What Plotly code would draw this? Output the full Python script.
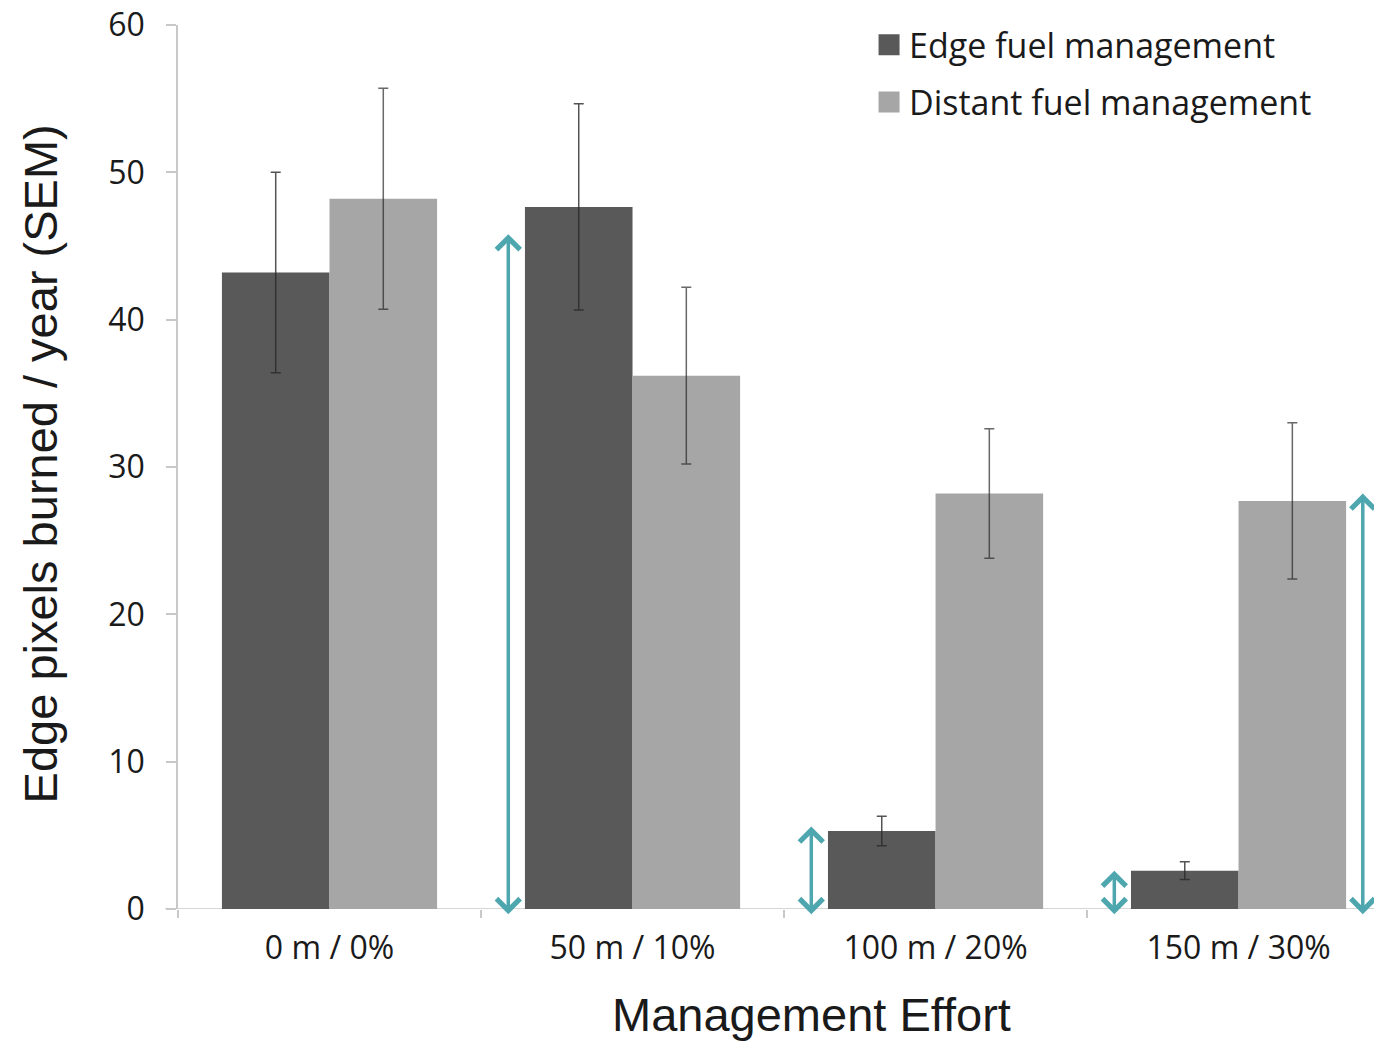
import plotly.graph_objects as go

categories = ["0 m / 0%", "50 m / 10%", "100 m / 20%", "150 m / 30%"]
edge_values = [43.2, 47.65, 5.3, 2.6]
edge_sem = [6.8, 7.0, 1.0, 0.6]
distant_values = [48.2, 36.2, 28.2, 27.7]
distant_sem = [7.5, 6.0, 4.4, 5.3]

# teal double-headed arrows: (category index, side offset, top value)
arrow_cat = [1, 2, 3, 3]
arrow_side = [-1, -1, -1, 1]
arrow_top = [45.8, 5.6, 2.6, 28.2]
arrow_bottom = -0.45

DARK = "#595959"
LIGHT = "#a6a6a6"
TEAL = "#4ea6ae"
AXIS = "#c8c8c8"
TICKFONT = "Open Sans"
TITLEFONT = "Liberation Sans"

fig = go.Figure()
fig.add_trace(go.Bar(
    x=categories, y=edge_values, name="Edge fuel management",
    marker=dict(color=DARK, line=dict(width=0)),
    error_y=dict(type="data", array=edge_sem, color="rgba(40,40,40,0.8)", thickness=1.5, width=5),
    showlegend=False,
))
fig.add_trace(go.Bar(
    x=categories, y=distant_values, name="Distant fuel management",
    marker=dict(color=LIGHT, line=dict(width=0)),
    error_y=dict(type="data", array=distant_sem, color="rgba(40,40,40,0.7)", thickness=1.5, width=5),
    showlegend=False,
))
# legend entries
for nm, col, grp in [("Edge fuel management", DARK, "a"), ("Distant fuel management", LIGHT, "b")]:
    fig.add_trace(go.Scatter(
        x=[None], y=[None], mode="markers", name=nm, legendgroup=grp,
        marker=dict(symbol="square", size=16, color=col, line=dict(color=col, width=5)),
    ))

for c, s, top in zip(arrow_cat, arrow_side, arrow_top):
    xpos = c + s * 0.41
    fig.add_annotation(
        x=xpos, y=top, ax=xpos, ay=arrow_bottom, xref="x", yref="y", axref="x", ayref="y",
        text="", showarrow=True, arrowhead=4, startarrowhead=4, arrowside="end+start",
        arrowsize=1.3, startarrowsize=1.3, arrowwidth=3.5, arrowcolor=TEAL, standoff=0, startstandoff=0,
    )

# x axis line extending slightly left of y axis
fig.add_shape(type="line", xref="paper", yref="y", x0=-13/1196, x1=1, y0=0, y1=0,
              line=dict(color=AXIS, width=1.5), layer="below")

# axis titles
fig.add_annotation(text="Edge pixels burned / year (SEM)", xref="paper", yref="paper",
                   x=-0.1154, y=0.504, xanchor="center", yanchor="middle", textangle=-90, showarrow=False,
                   font=dict(family=TITLEFONT, size=47, color="#1a1a1a"))
fig.add_annotation(text="Management Effort", xref="paper", yref="paper",
                   x=0.530, y=-0.1199, xanchor="center", yanchor="middle", showarrow=False,
                   font=dict(family=TITLEFONT, size=47, color="#1a1a1a"))

fig.update_layout(
    width=1374, height=1044,
    margin=dict(l=178, r=0, t=25, b=135, autoexpand=False),
    paper_bgcolor="white", plot_bgcolor="white",
    barmode="group", bargap=0.29, bargroupgap=0,
    legend=dict(x=0.5778, y=1.01, xanchor="left", yanchor="top", font=dict(family=TICKFONT, size=34, color="#1a1a1a"),
                traceorder="grouped", tracegroupgap=10, bgcolor="rgba(0,0,0,0)", itemsizing="trace"),
    xaxis=dict(
        range=[-0.5, 3.447], showline=False, ticks="outside", tickson="boundaries", ticklen=8,
        tickcolor=AXIS, tickwidth=1.5, showgrid=False, zeroline=False,
        tickfont=dict(family=TICKFONT, size=32, color="#1a1a1a"), ticklabelstandoff=17,
    ),
    yaxis=dict(
        range=[0, 60], dtick=10, showline=True, linecolor=AXIS, linewidth=1.5, ticks="outside", ticklen=10,
        tickcolor=AXIS, tickwidth=1.5, showgrid=False, zeroline=False, ticklabeloverflow="allow",
        tickfont=dict(family=TICKFONT, size=32, color="#1a1a1a"), ticklabelstandoff=15,
    ),
)

fig.write_html("out.html", config={"displayModeBar": False},
               post_script="document.body.style.margin='0';document.body.style.overflow='hidden';")
